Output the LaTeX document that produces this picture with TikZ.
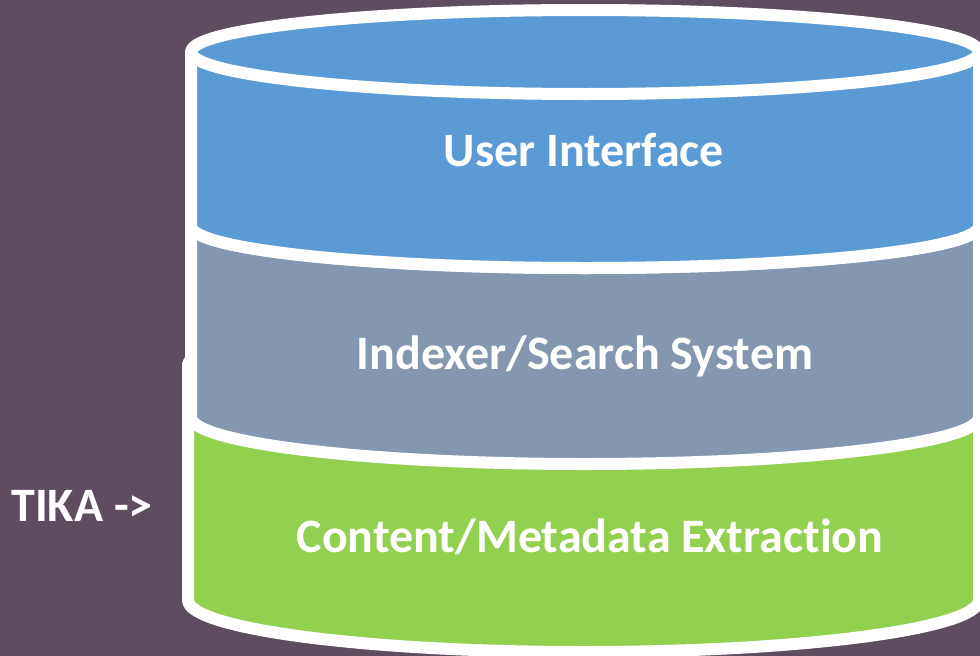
\documentclass[tikz,border=0pt]{standalone}
\usepackage{fontspec}
\setmainfont{Carlito}[Ligatures={NoCommon,NoDiscretionary,NoRare}]
\usepackage{xcolor}
\definecolor{plum}{RGB}{94, 76, 95}
\definecolor{uiblue}{RGB}{91, 155, 213}
\definecolor{idxgray}{RGB}{132, 150, 176}
\definecolor{extgreen}{RGB}{146, 208, 80}

\begin{document}
\begin{tikzpicture}[
  x=1pt, y=-1pt,
  every node/.style={font=\fontsize{48}{58}\selectfont\bfseries, text=white},
  rim/.style={draw=white, line width=12pt, line join=round}
]

% Canvas
\useasboundingbox (0,0) rectangle (980,656);
\clip (0,0) rectangle (980,656);
\fill[plum] (0,0) rectangle (980,656);

% Stacked cylinders, bottom layer first so the upper ones cover it
% left x / right x / top y / bottom y / top radius / bottom radius / colour
\foreach \xl/\xr/\yt/\yb/\rt/\rb/\col in {
    188/979/365/600/44/52/extgreen,
    191/979/226/417/42/47/idxgray,
    191/979/52/226/42/42/uiblue}{
  \pgfmathsetmacro{\rx}{(\xr-\xl)/2}
  \filldraw[rim, fill=\col] (\xl,\yt) -- (\xl,\yb)
    arc[start angle=180, end angle=360, x radius=\rx pt, y radius=\rb pt]
    -- (\xr,\yt)
    arc[start angle=0, end angle=180, x radius=\rx pt, y radius=\rt pt]
    -- cycle;
  \draw[rim] (\xl,\yt)
    arc[start angle=180, end angle=360, x radius=\rx pt, y radius=\rt pt];
}

% Layer labels
\node[anchor=base] (ui)  at (584,166) {User Interface};
\node[anchor=base] (idx) at (585,369) {Indexer/Search System};
\node[anchor=base] (cme) at (590,552) {Content/Metadata Extraction};

% Side label
\node[anchor=base] (tika) at (82,521) {TIKA ->};

\end{tikzpicture}
\end{document}
